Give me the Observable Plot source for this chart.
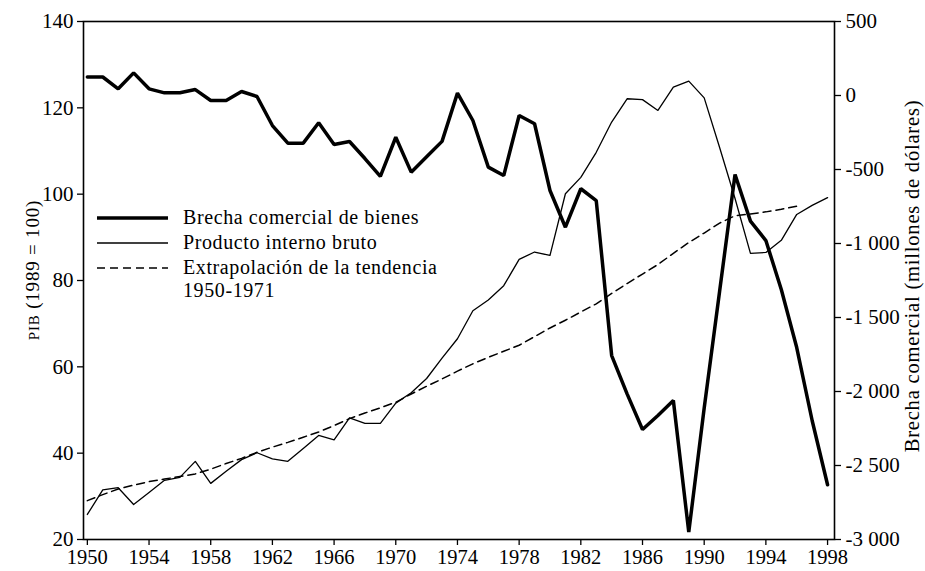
<!DOCTYPE html>
<html>
<head>
<meta charset="utf-8">
<script src="https://cdn.jsdelivr.net/npm/d3@7"></script>
<script src="https://cdn.jsdelivr.net/npm/@observablehq/plot@0.6"></script>
<style>
  html, body { margin: 0; padding: 0; background: #fff; }
  #chart { width: 925px; height: 571px; }
</style>
</head>
<body>
<div id="chart"></div>
<script>
// ---- data ----
const years = [1950,1951,1952,1953,1954,1955,1956,1957,1958,1959,
  1960,1961,1962,1963,1964,1965,1966,1967,1968,1969,
  1970,1971,1972,1973,1974,1975,1976,1977,1978,1979,
  1980,1981,1982,1983,1984,1985,1986,1987,1988,1989,
  1990,1991,1992,1993,1994,1995,1996,1997,1998];

// Brecha comercial de bienes (millones de dólares) - right axis
const tradeGap = [125,125,45,153,45,18,18,40,-34,-34,
  27,-7,-203,-322,-322,-184,-331,-311,-426,-547,
  -282,-518,-414,-310,16,-169,-484,-541,-135,-191,
  -642,-890,-630,-710,-1757,-2016,-2257,-2162,-2061,-2950,
  -2111,-1323,-534,-849,-980,-1311,-1703,-2196,-2630];

// Producto interno bruto (1989 = 100) - left axis
const gdp = [25.8,31.5,32.0,28.1,30.9,33.7,34.4,38.1,33.0,35.8,
  38.5,40.1,38.7,38.1,41.1,44.1,43.1,48.2,46.9,46.9,
  51.6,54.0,57.3,62.0,66.5,73.0,75.5,78.8,84.9,86.6,
  85.8,100.1,103.9,109.7,116.7,122.1,121.9,119.4,124.8,126.2,
  122.3,110.8,99.0,86.3,86.5,89.3,95.3,97.4,99.2];

// Extrapolación de la tendencia 1950-1971
const trendYears = [1950,1951,1952,1953,1954,1955,1956,1957,1958,1959,
  1960,1961,1962,1963,1964,1965,1966,1967,1968,1969,
  1970,1971,1972,1973,1974,1975,1976,1977,1978,1979,
  1980,1981,1982,1983,1984,1985,1986,1987,1988,1989,
  1990,1991,1992,1993,1994,1995,1996];
const trend = [29.0,30.4,31.7,32.6,33.4,34.0,34.6,35.2,36.3,37.6,
  38.8,40.2,41.4,42.5,43.7,44.9,46.4,48.0,49.3,50.5,
  51.8,53.7,55.5,57.2,59.0,60.7,62.2,63.6,65.0,67.0,
  69.0,70.8,72.7,74.6,77.0,79.3,81.5,83.7,86.3,88.8,
  91.0,93.3,95.0,95.4,95.9,96.5,97.2];

const xTicks = [1950,1954,1958,1962,1966,1970,1974,1978,1982,1986,1990,1994,1998];
const leftTicks = [20,40,60,80,100,120,140];
const rightTicks = [500,0,-500,-1000,-1500,-2000,-2500,-3000];

const legendLabels = ["Brecha comercial de bienes", "Producto interno bruto", "Extrapolación de la tendencia", "1950-1971"];
const leftLabel = "PIB (1989 = 100)";
const rightLabel = "Brecha comercial (millones de dólares)";

// ---- scales mapping (right axis -> left domain) ----
const L0 = 20, L1 = 140, R0 = -3000, R1 = 500;
const toLeft = v => L0 + (v - R0) * (L1 - L0) / (R1 - R0);
const fromLeft = y => R0 + (y - L0) * (R1 - R0) / (L1 - L0);
const fmtRight = y => {
  const v = Math.round(fromLeft(y));
  const a = Math.abs(v);
  const s = a >= 1000 ? Math.floor(a / 1000) + " " + String(a % 1000).padStart(3, "0") : String(a);
  return (v < 0 ? "-" : "") + s;
};

const gdpData = years.map((x, i) => ({x, y: gdp[i]}));
const tradeData = years.map((x, i) => ({x, y: toLeft(tradeGap[i])}));
const trendData = trendYears.map((x, i) => ({x, y: trend[i]}));

const FONT = "'Liberation Serif', 'DejaVu Serif', serif";

const chart = Plot.plot({
  width: 925,
  height: 571,
  marginLeft: 83,
  marginRight: 91,
  marginTop: 21,
  marginBottom: 32,
  x: {domain: [1949.75, 1998.45]},
  y: {domain: [L0, L1]},
  style: {fontFamily: FONT, fontSize: "20px", color: "#000", background: "#fff", overflow: "visible"},
  marks: [
    Plot.axisX(xTicks, {tickFormat: d => String(d), tickSize: 6, tickPadding: 4, label: null, strokeWidth: 1.3, fontSize: 20.5}),
    Plot.axisY(leftTicks, {anchor: "left", tickSize: 6, tickPadding: 4, label: null, strokeWidth: 1.3, fontSize: 21}),
    Plot.axisY(rightTicks.map(toLeft), {anchor: "right", tickFormat: fmtRight, tickSize: 6, tickPadding: 5, label: null, strokeWidth: 1.3, fontSize: 21}),
    Plot.frame({stroke: "#000", strokeWidth: 1.6}),
    Plot.line(trendData, {x: "x", y: "y", stroke: "#000", strokeWidth: 1.5, strokeDasharray: "8,5"}),
    Plot.line(gdpData, {x: "x", y: "y", stroke: "#000", strokeWidth: 1.3}),
    Plot.line(tradeData, {x: "x", y: "y", stroke: "#000", strokeWidth: 3.5, strokeLinejoin: "miter"})
  ]
});

document.getElementById("chart").appendChild(chart);

// ---- legend and axis titles ----
const svg = d3.select(chart);
const lg = svg.append("g")
  .attr("font-family", FONT)
  .attr("font-size", 20)
  .attr("letter-spacing", "0.6px")
  .attr("text-anchor", "start");
const rows = [
  {y: 218, w: 3.5, dash: null, label: legendLabels[0]},
  {y: 243, w: 1.3, dash: null, label: legendLabels[1]},
  {y: 268, w: 1.5, dash: "8,5", label: legendLabels[2]}
];
rows.forEach(r => {
  lg.append("line").attr("x1", 97).attr("x2", 168).attr("y1", r.y).attr("y2", r.y)
    .attr("stroke", "#000").attr("stroke-width", r.w).attr("stroke-dasharray", r.dash);
  lg.append("text").attr("x", 183).attr("y", r.y).attr("dy", "0.32em").text(r.label);
});
lg.append("text").attr("x", 183).attr("y", 291).attr("dy", "0.32em").text(legendLabels[3]);

const ll = svg.append("text")
  .attr("transform", "translate(33,270) rotate(-90)")
  .attr("text-anchor", "middle")
  .attr("font-family", FONT)
  .attr("font-size", 19)
  .attr("letter-spacing", "0.8px")
  .attr("dy", "0.32em");
ll.append("tspan").attr("font-size", 15).text(leftLabel.slice(0, 3));
ll.append("tspan").text(leftLabel.slice(3));

svg.append("text")
  .attr("transform", "translate(912,276) rotate(-90)")
  .attr("text-anchor", "middle")
  .attr("font-family", FONT)
  .attr("font-size", 20.5)
  .attr("letter-spacing", "0.8px")
  .attr("dy", "0.32em")
  .text(rightLabel);
</script>
</body>
</html>
